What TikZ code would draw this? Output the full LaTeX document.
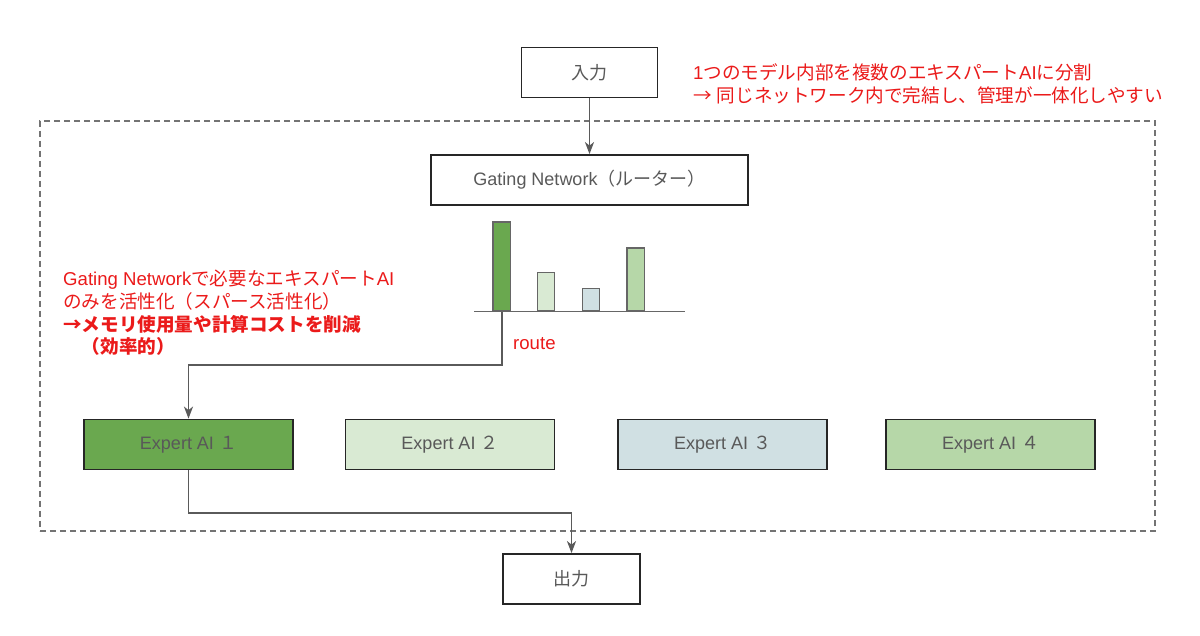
\documentclass[tikz,border=0pt]{standalone}
\usepackage{fontspec}
\setmainfont{Liberation Sans}
\newfontfamily\jp{Noto Sans CJK JP}
\usetikzlibrary{arrows.meta}
\definecolor{txtgrey}{HTML}{595959}
\definecolor{linegrey}{HTML}{5A5A5A}
\definecolor{notered}{RGB}{235,26,26}
\definecolor{gA}{HTML}{6AA84F}
\definecolor{gB}{HTML}{D9EAD3}
\definecolor{gC}{HTML}{D0E0E3}
\definecolor{gD}{HTML}{B6D7A8}
\begin{document}
\begin{tikzpicture}[x=1pt,y=-1pt,
  box/.style={draw=black!85, line width=1.8pt, inner sep=0pt, text=txtgrey,
    font=\fontsize{18}{22}\selectfont, minimum height=50pt},
  ebox/.style={box, minimum width=209pt},
  bar/.style={draw=black!60, line width=1.3pt, anchor=south, minimum width=17.5pt, inner sep=0pt},
  conn/.style={draw=linegrey, line width=1.7pt},
  arr/.style={-{Stealth[length=12pt,width=9pt,inset=3.5pt]}},
  frame/.style={draw=black!55, line width=1.2pt, dash pattern=on 6pt off 4pt, inner sep=0pt},
  note/.style={text=notered, font=\fontsize{18.6}{22.8}\selectfont, align=left, inner sep=0pt}]
\useasboundingbox[fill=white] (0,0) rectangle (1200,636);

% dashed frame
\node[frame, minimum width=1115pt, minimum height=410pt] (frm) at (597.5,326) {};

% main boxes
\node[box, minimum width=136pt] (in) at (589.5,72.5) {\jp 入力};
\node[box, minimum width=317pt] (gate) at (589.5,180) {Gating Network{\jp （ルーター）}};

% bar chart
\node[bar, fill=gA, minimum height=89pt] (bar1) at (501.7,311.7) {};
\node[bar, fill=gB, minimum height=38.5pt] (bar2) at (546,311.7) {};
\node[bar, fill=gC, minimum height=22.5pt] (bar3) at (591,311.7) {};
\node[bar, fill=gD, minimum height=63pt] (bar4) at (635.7,311.7) {};
\coordinate (axL) at (474,311.7);
\coordinate (axR) at (685,311.7);
\draw[draw=black!60, line width=1.3pt] (axL) -- (axR);

% experts
\node[ebox, fill=gA] (e1) at (188.5,444.5) {Expert AI {\jp １}};
\node[ebox, fill=gB] (e2) at (450,444.5) {Expert AI {\jp ２}};
\node[ebox, fill=gC] (e3) at (722.7,444.5) {Expert AI {\jp ３}};
\node[ebox, fill=gD] (e4) at (990.7,444.5) {Expert AI {\jp ４}};

% output
\node[box, minimum width=137pt] (out) at (571.5,579) {\jp 出力};

% connectors
\draw[conn,arr] (in.south) -- (gate.north);
\draw[conn,arr] (bar1.south) -- ++(0,53.3) -| (e1.north);
\draw[conn,arr] (e1.south) -- ++(0,42.5) -| (out.north);

% labels
\node[note, anchor=base west] (routelbl) at (513,350) {route};
\node[note, anchor=base west] (note1) at (693,102.5)
  {1{\jp つのモデル内部を複数のエキスパート}AI{\jp に分割}\\
   {\jp →} {\jp 同じネットワーク内で完結し、管理が一体化しやすい}};
\node[note, anchor=base west] (note2) at (63,354)
  {Gating Network{\jp で必要なエキスパート}AI\\
   {\jp のみを活性化（スパース活性化）}\\
   {\jp\bfseries →メモリ使用量や計算コストを削減}\\
   {\jp\bfseries 　（効率的）}};
\end{tikzpicture}
\end{document}
